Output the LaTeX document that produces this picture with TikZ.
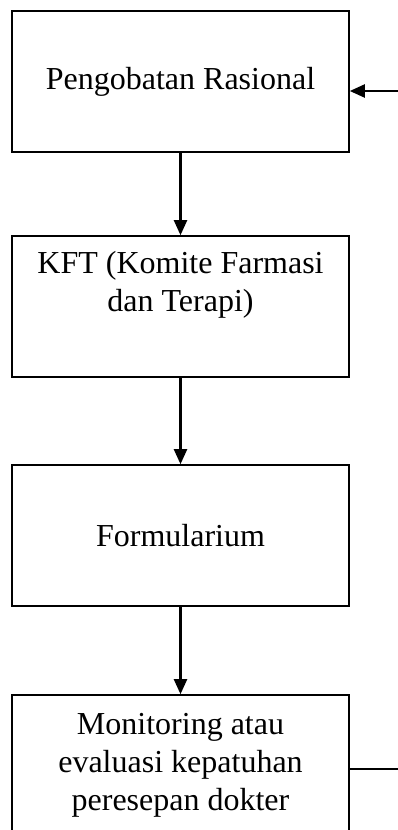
\documentclass[tikz,border=0pt]{standalone}
\usepackage{fontspec}
\setmainfont{Liberation Serif}
\usetikzlibrary{arrows.meta}
\begin{document}
\begin{tikzpicture}[x=1pt, y=-1pt,
    box/.style={draw, line width=1.6pt, minimum width=337pt, minimum height=141pt,
        inner sep=0pt, align=center, font=\fontsize{32}{38}\selectfont},
    arr/.style={line width=2.2pt, -{Triangle[length=15pt, width=13pt]}}]
    % page frame
    \useasboundingbox (0,0) rectangle (398,830);
    \clip (0,0) rectangle (398,830);

    % boxes
    \node[box] (rasional) at (180.5, 81.5) {Pengobatan Rasional};
    \node[box] (kft) at (180.5, 306.5) {KFT (Komite Farmasi\\dan Terapi)\\\strut};
    \node[box] (formularium) at (180.5, 535.5) {Formularium};
    \node[box] (monitoring) at (180.5, 765.5) {Monitoring atau\\evaluasi kepatuhan\\peresepan dokter};

    % arrows down
    \draw[arr] (rasional) -- (kft);
    \draw[arr] (kft) -- (formularium);
    \draw[arr] (formularium) -- (monitoring);

    % feedback loop
    \coordinate (fbtop) at (400, 91);
    \coordinate (fbbot) at (400, 769);
    \draw[line width=1.6pt] (monitoring.east |- fbbot) -- (fbbot) -- (fbtop);
    \draw[arr] (fbtop) -- (rasional.east |- fbtop);
\end{tikzpicture}
\end{document}
